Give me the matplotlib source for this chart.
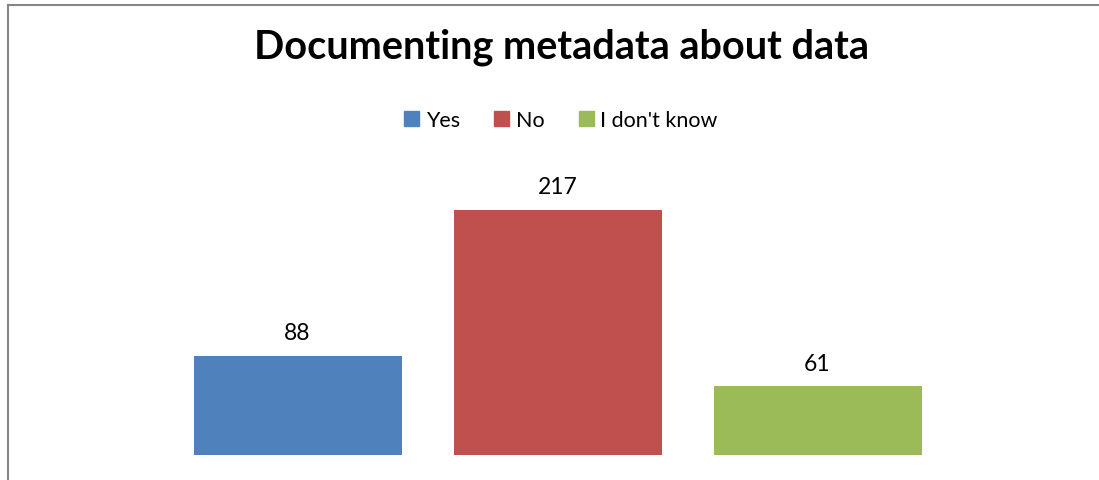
import matplotlib
matplotlib.use("Agg")
from matplotlib import pyplot as plt
from matplotlib.lines import Line2D

# data
categories = ["Yes", "No", "I don't know"]
values = [88, 217, 61]
colors = ["#4F81BD", "#C0504D", "#9BBB59"]
title = "Documenting metadata about data"

W, H = 1099, 481
fig = plt.figure(figsize=(W / 100, H / 100), dpi=100)
plt.rcParams['font.family'] = ['Lato', 'DejaVu Sans']

# axes placed in pixel coords: x=-1 at 37.5px, x=3 at 1077.5px; y=0 at 456px
left, right = 37.5, 1077.5
bottom_px = 456
top_px = 456 - 260 * 1.13
ax = fig.add_axes([left / W, 1 - bottom_px / H, (right - left) / W, (bottom_px - top_px) / H])

xs = list(range(len(categories)))
bars = ax.bar(xs, values, width=0.8, color=colors, label=categories)
for x, v in zip(xs, values):
    ax.text(x, v + 11, str(v), ha='center', va='bottom', fontsize=16.5)

ax.set_xlim(-1, 3)
ax.set_ylim(0, 260)
ax.axis('off')

fig.text(561 / W, 1 - 47 / H, title, ha='center', va='center', fontsize=28.5, fontweight='bold')

handles = [plt.Rectangle((0, 0), 1, 1, color=c) for c in colors]
fig.legend(handles, categories, loc='center', bbox_to_anchor=(561 / W, 1 - 121 / H),
           ncol=3, frameon=False, fontsize=15.5, handlelength=0.7, handleheight=0.7,
           handletextpad=0.3, columnspacing=1.6)

# chart frame (left and top only visible)
fig.add_artist(Line2D([7.5 / W, 7.5 / W], [0, 1 - 5.5 / H], color='#878787', lw=1.5))
fig.add_artist(Line2D([7.5 / W, 1098 / W], [1 - 5.5 / H, 1 - 5.5 / H], color='#878787', lw=1.5))

fig.savefig("out.png", dpi=100)
